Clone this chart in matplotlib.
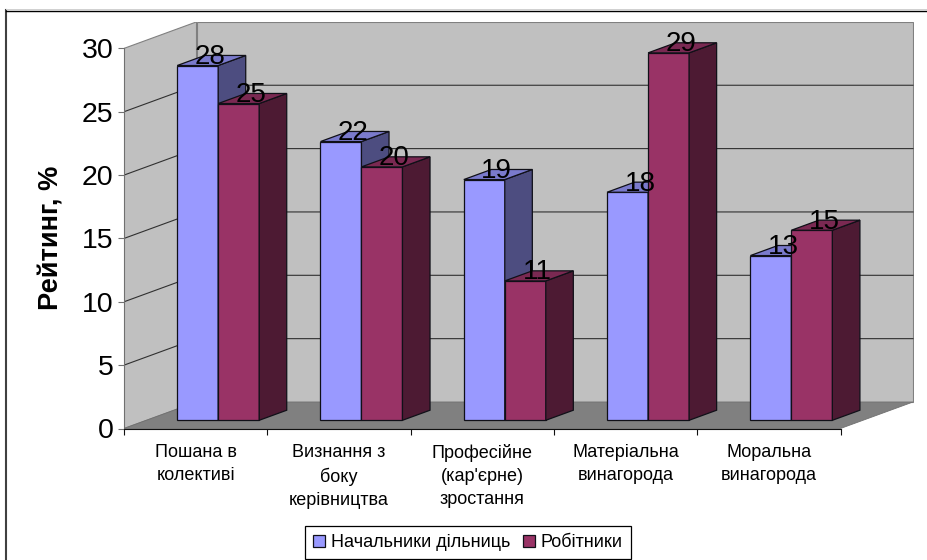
import matplotlib
matplotlib.use("Agg")
import matplotlib.pyplot as plt
from matplotlib.lines import Line2D
from matplotlib.ticker import FixedLocator, NullFormatter, FixedFormatter

plt.rcParams['font.family'] = ['Liberation Sans', 'DejaVu Sans']

# дані
categories = ["Пошана в\nколективі", "Визнання з\nбоку\nкерівництва",
              "Професійне\n(кар'єрне)\nзростання", "Матеріальна\nвинагорода",
              "Моральна\nвинагорода"]
foremen = [28, 22, 19, 18, 13]
workers = [25, 20, 11, 29, 15]
series_names = ["Начальники дільниць", "Робітники"]
y_ticks = [0, 5, 10, 15, 20, 25, 30]

W, H = 927, 560
fig = plt.figure(figsize=(W / 100, H / 100), dpi=100, facecolor="white")
ax = fig.add_axes([124 / W, 1 - 428.5 / H, 790 / W, 406.5 / H])

CAT_PX = 143.3
VAL_PX = 12.67
ax.set_xlim(0, 790 / CAT_PX)
ax.set_ylim(0, 406.5 / VAL_PX)
ax.patch.set_visible(False)

# зсув глибини у координатах даних
DX = 72.5 / CAT_PX
DY = 26.5 / VAL_PX
D0, D1 = 0.31, 0.69
BAR_W = 41 / CAT_PX
GAP = 30.7 / CAT_PX
n = len(categories)
top = y_ticks[-1]

# стінки та підлога
ax.fill([0, 0, DX, DX], [0, top, top + DY, DY], fc="#C0C0C0", ec="#808080", lw=0.8, zorder=1)
ax.fill([DX, DX, n + DX, n + DX], [DY, top + DY, top + DY, DY], fc="#C0C0C0", ec="#808080", lw=0.8, zorder=1)
ax.fill([0, n, n + DX, DX], [0, 0, DY, DY], fc="#808080", ec="#707070", lw=0.6, zorder=1)

# сітка
for t in y_ticks[1:-1]:
    ax.plot([0, DX, n + DX], [t, t + DY, t + DY], color="#303030", lw=0.8, zorder=2)


def draw_bars(values, offset, front, upper, side, label):
    for i, v in enumerate(values):
        x0 = i + GAP + offset * BAR_W + D0 * DX
        y0 = D0 * DY
        ddx = (D1 - D0) * DX
        ddy = (D1 - D0) * DY
        ax.bar(x0, v, BAR_W, bottom=y0, align="edge", color=front, edgecolor="#101018",
               lw=0.9, zorder=3, label=label if i == 0 else None)
        x1 = x0 + BAR_W
        y1 = y0 + v
        ax.fill([x1, x1 + ddx, x1 + ddx, x1], [y0, y0 + ddy, y1 + ddy, y1],
                fc=side, ec="#101018", lw=0.9, zorder=3)
        ax.fill([x0, x1, x1 + ddx, x0 + ddx], [y1, y1, y1 + ddy, y1 + ddy],
                fc=upper, ec="#101018", lw=0.9, zorder=3)


draw_bars(foremen, 0, "#9999FF", "#7A7ACC", "#4D4D80", series_names[0])
draw_bars(workers, 1, "#993366", "#7A2952", "#4D1A33", series_names[1])

# підписи значень
for s, values in enumerate([foremen, workers]):
    for i, v in enumerate(values):
        x = i + GAP + (s + 0.5) * BAR_W + 0.5 * (D0 + D1) * DX
        y = v + 0.5 * (D0 + D1) * DY
        ax.annotate(str(v), (x, y), xytext=(-1, 2.5), textcoords="offset points",
                    ha="center", va="center", fontsize=20, color="black", zorder=5)

# осі
for name in ["top", "right"]:
    ax.spines[name].set_visible(False)
ax.spines["left"].set_bounds(0, top)
ax.spines["left"].set_color("#707070")
ax.spines["left"].set_zorder(4)
ax.spines["bottom"].set_bounds(0, n)
ax.spines["bottom"].set_color("#101010")
ax.spines["bottom"].set_zorder(4)

ax.set_yticks(y_ticks)
ax.tick_params(axis="y", length=4.5, width=0.8, color="#707070", labelsize=20.5, pad=3)
ax.xaxis.set_major_locator(FixedLocator(list(range(n + 1))))
ax.xaxis.set_major_formatter(NullFormatter())
ax.xaxis.set_minor_locator(FixedLocator([i + 0.5 for i in range(n)]))
ax.xaxis.set_minor_formatter(FixedFormatter(categories))
ax.tick_params(axis="x", which="major", length=4.5, width=0.8, color="#101010")
ax.tick_params(axis="x", which="minor", length=0, labelsize=13, pad=11.5)
for lab in ax.get_xticklabels(minor=True):
    lab.set_linespacing(1.43)
    lab.set_ha("center")

ax.set_ylabel("Рейтинг, %", fontsize=19.6, fontweight="bold", va="center")
ax.yaxis.set_label_coords((51.5 - 124) / 790, (428.5 - 237.5) / 406.5)

# легенда
leg = ax.legend(loc="center", bbox_to_anchor=((468.2 - 124) / 790, (428.5 - 542.6) / 406.5),
                ncol=2, fontsize=13, frameon=True, fancybox=False, framealpha=1,
                edgecolor="black", handlelength=0.65, handleheight=0.65, handletextpad=0.35,
                columnspacing=0.67, borderpad=0.46, borderaxespad=0)
leg.get_frame().set_linewidth(0.9)

# рамка діаграми
fig.add_artist(Line2D([6.3 / W, 6.3 / W], [0, 1 - 10 / H], color="#404040", lw=1.5))
fig.add_artist(Line2D([6 / W, 1], [1 - 10.5 / H, 1 - 10.5 / H], color="black", lw=1.0))
fig.add_artist(Line2D([6 / W, 1], [1 - 9 / H, 1 - 9 / H], color="#D0D0D0", lw=0.7))

fig.savefig("out.png", dpi=100)
